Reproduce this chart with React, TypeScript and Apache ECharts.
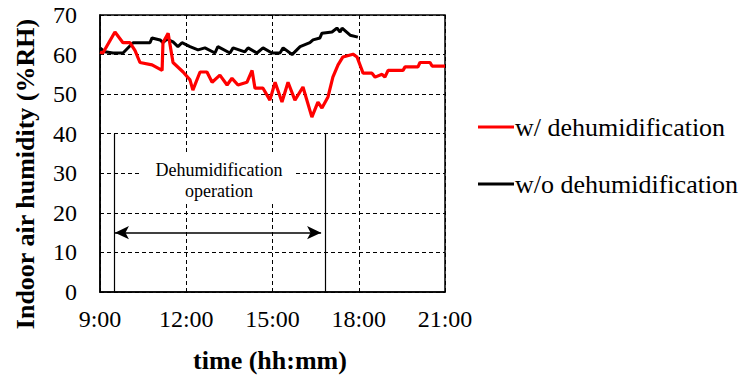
import React, { useEffect, useRef } from "react";
import * as echarts from "echarts";

// time in hours (decimal), humidity in %RH
const redTimes = [9.0, 9.1, 9.52, 9.8, 10.04, 10.22, 10.39, 10.81, 11.16, 11.19, 11.37, 11.54, 11.89, 12.13, 12.23, 12.48, 12.72, 12.9, 13.17, 13.42, 13.59, 13.8, 14.11, 14.29, 14.39, 14.67, 14.91, 15.09, 15.33, 15.54, 15.78, 16.06, 16.37, 16.58, 16.72, 16.93, 17.1, 17.28, 17.45, 17.8, 17.94, 18.15, 18.46, 18.57, 18.81, 18.91, 19.02, 19.54, 19.61, 20.06, 20.13, 20.48, 20.55, 21.0];
const redValues = [60.6, 60.4, 65.7, 63, 63, 61, 58, 57.4, 56, 63, 65.4, 58, 55.6, 53.6, 51, 55.6, 55.6, 53, 54.8, 52.3, 54, 52.3, 53, 56, 51.5, 51.5, 48.5, 53, 48, 53, 48.5, 51.8, 44.2, 48, 46.5, 49.3, 54.3, 57.4, 59.4, 60.1, 59.4, 55.3, 55.3, 54.3, 55, 54.3, 56, 56, 56.9, 56.9, 58, 58, 57.1, 57.1];

const blackTimes = [9.0, 9.17, 9.45, 9.8, 10.15, 10.74, 10.81, 11.09, 11.19, 11.33, 11.54, 11.71, 11.85, 12.13, 12.41, 12.65, 13.0, 13.1, 13.52, 13.63, 14.04, 14.15, 14.46, 14.67, 14.98, 15.26, 15.37, 15.68, 15.96, 16.3, 16.41, 16.65, 16.72, 17.07, 17.24, 17.35, 17.42, 17.7, 17.97];
const blackValues = [61.7, 60.7, 60.4, 60.4, 63, 63, 64.2, 63.7, 63, 63.9, 63.2, 62, 63, 62, 61.2, 61.7, 60.4, 62, 60.4, 61.7, 60.7, 61.7, 60.4, 61.7, 60.4, 60.4, 61.7, 60, 62, 63, 63.7, 64.2, 65.4, 65.7, 66.7, 65.7, 66.7, 64.9, 64.4];

const seriesNames = ["w/ dehumidification", "w/o dehumidification"];
const xTicks = [9, 12, 15, 18, 21];
const operationStart = 9.49;
const operationEnd = 16.83;
const operationTop = 40;
const arrowLevel = 15;
const arrowStart = 9.52;
const arrowEnd = 16.69;

const FONT = "Liberation Serif";

export default function App() {
  const ref = useRef<HTMLDivElement>(null);
  useEffect(() => {
    if (!ref.current) return;
    const chart = echarts.init(ref.current, undefined, { renderer: "svg" });
    const red = redTimes.map((t, i) => [t, redValues[i]]);
    const black = blackTimes.map((t, i) => [t, blackValues[i]]);
    chart.setOption({
      animation: false,
      backgroundColor: "#ffffff",
      textStyle: { fontFamily: FONT },
      grid: {
        left: 100,
        right: 295,
        top: 15,
        bottom: 84,
        show: true,
        borderColor: "#000",
        borderWidth: 1.5,
        backgroundColor: "transparent",
      },
      legend: {
        orient: "vertical",
        left: 473,
        top: 109,
        itemWidth: 36,
        itemHeight: 3,
        itemGap: 31,
        icon: "rect",
        data: seriesNames,
        textStyle: { fontFamily: FONT, fontSize: 26, color: "#000", padding: [0, 0, 0, -4] },
      },
      xAxis: {
        type: "value",
        min: 9,
        max: 21,
        interval: 3,
        axisLine: { show: true, lineStyle: { color: "#000", width: 1.5 } },
        axisTick: { show: false },
        axisLabel: {
          margin: 15,
          color: "#000",
          fontFamily: FONT,
          fontSize: 24,
          formatter: (v: number) => (xTicks.includes(v) ? `${v}:00` : ""),
        },
        splitLine: { show: true, lineStyle: { color: "#000", type: [4, 3], width: 1 } },
      },
      yAxis: {
        type: "value",
        min: 0,
        max: 70,
        interval: 10,
        axisLine: { show: true, lineStyle: { color: "#000", width: 1.5 } },
        axisTick: { show: false },
        axisLabel: { margin: 23, color: "#000", fontFamily: FONT, fontSize: 24 },
        splitLine: { show: true, lineStyle: { color: "#000", type: [4, 3], width: 1 } },
      },
      graphic: [
        {
          type: "rect",
          shape: { x: 142, y: 155, width: 152, height: 47 },
          style: { fill: "#fff" },
          z: 5,
        },
        {
          type: "text",
          x: 219,
          y: 170,
          z: 6,
          style: {
            text: "Dehumidification",
            fontFamily: FONT,
            fontSize: 18,
            fill: "#000",
            align: "center",
            verticalAlign: "middle",
          },
        },
        {
          type: "text",
          x: 219,
          y: 191,
          z: 6,
          style: {
            text: "operation",
            fontFamily: FONT,
            fontSize: 18,
            fill: "#000",
            align: "center",
            verticalAlign: "middle",
          },
        },
        {
          type: "text",
          x: 25,
          y: 174,
          rotation: Math.PI / 2,
          style: {
            text: "Indoor air humidity (%RH)",
            fontFamily: FONT,
            fontSize: 26,
            fontWeight: "bold",
            fill: "#000",
            align: "center",
            verticalAlign: "middle",
          },
        },
        {
          type: "text",
          x: 270,
          y: 360,
          style: {
            text: "time (hh:mm)",
            fontFamily: FONT,
            fontSize: 26,
            fontWeight: "bold",
            fill: "#000",
            align: "center",
            verticalAlign: "middle",
          },
        },
      ],
      series: [
        {
          name: seriesNames[0],
          type: "line",
          data: red,
          symbol: "none",
          lineStyle: { color: "#ff0000", width: 3.2 },
          itemStyle: { color: "#ff0000" },
          z: 3,
          markLine: {
            silent: true,
            symbol: ["none", "none"],
            label: { show: false },
            lineStyle: { color: "#000", width: 1.2, type: "solid" },
            data: [
              [{ coord: [operationStart, 0] }, { coord: [operationStart, operationTop] }],
              [{ coord: [operationEnd, 0] }, { coord: [operationEnd, operationTop] }],
            ],
          },
        },
        {
          name: seriesNames[1],
          type: "line",
          data: black,
          symbol: "none",
          lineStyle: { color: "#000000", width: 3 },
          itemStyle: { color: "#000000" },
          z: 2,
          markLine: {
            silent: true,
            symbol: ["arrow", "arrow"],
            symbolSize: [10, 14],
            label: { show: false },
            lineStyle: { color: "#000", width: 1.5, type: "solid" },
            data: [[{ coord: [arrowStart, arrowLevel] }, { coord: [arrowEnd, arrowLevel] }]],
          },
        },
      ],
    });
    return () => chart.dispose();
  }, []);
  return <div ref={ref} style={{ width: 740, height: 376, position: "absolute", left: 0, top: 0 }} />;
}
